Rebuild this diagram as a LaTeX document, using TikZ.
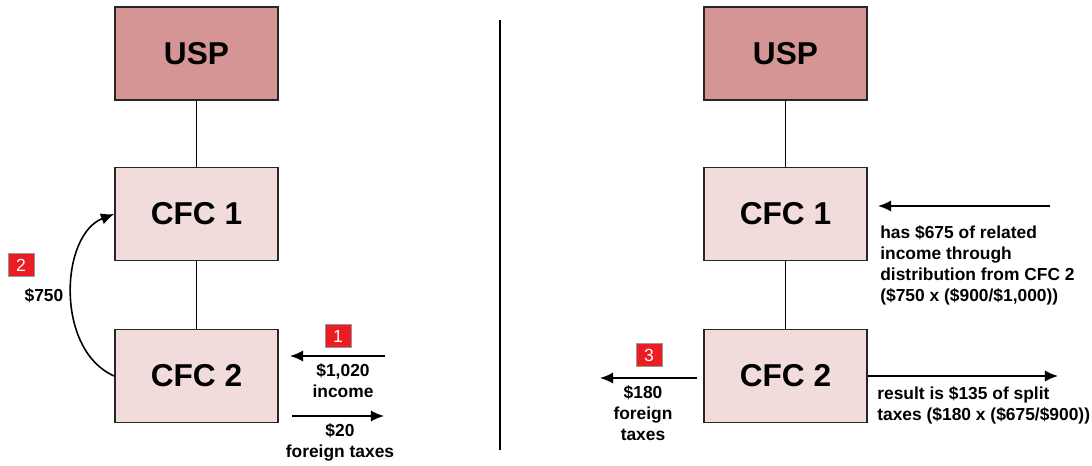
\documentclass[tikz,border=0pt]{standalone}
\usepackage{fontspec}
\setmainfont{Liberation Sans}
\usetikzlibrary{arrows.meta}
\definecolor{uspred}{HTML}{D59595}
\definecolor{cfcpink}{HTML}{F2DCDB}
\definecolor{stepred}{HTML}{EC1C24}
\tikzset{
  entity/.style={draw=black!85,line width=1pt,minimum width=3.26cm,minimum height=1.86cm,font=\fontsize{18}{20}\selectfont\bfseries},
  flow/.style={line width=1.1pt,-{Latex[length=7.5pt,width=6.5pt]}},
  note/.style={font=\fontsize{9.9}{12}\selectfont\bfseries,inner sep=0pt},
  stepno/.style={fill=stepred,draw=black!40,line width=0.4pt,text=white,minimum width=0.52cm,minimum height=0.46cm,inner sep=0pt,font=\fontsize{10}{10}\selectfont}
}
\begin{document}
\begin{tikzpicture}[x=0.02cm,y=-0.02cm]
    \useasboundingbox (0,0) rectangle (1092,466);
    % left side
    \node[entity,fill=uspred] (uspL) at (196.5,53.5) {USP};
    \node[entity,fill=cfcpink] (cfc1L) at (196.5,214) {CFC 1};
    \node[entity,fill=cfcpink] (cfc2L) at (196.5,376) {CFC 2};
    \draw[line width=0.8pt] (uspL.south)--(cfc1L.north);
    \draw[line width=0.8pt] (cfc1L.south)--(cfc2L.north);

    \coordinate (inA) at (385,356);
    \coordinate (inB) at (290,356);
    \coordinate (taxA) at (292,416);
    \coordinate (taxB) at (384,416);
    \draw[flow] (inA)--(inB);
    \draw[flow] (taxA)--(taxB);
    \node[stepno] (one) at (338,336) {1};
    \node[note,align=center] (income) at (343,381) {\$1,020\\income};
    \node[note,align=center] (ftax) at (340,442) {\$20\\foreign taxes};

    \draw[line width=0.9pt,-{Latex[length=7.5pt,width=6.5pt]}] (cfc2L.west) .. controls (55,350) and (60,235) .. (cfc1L.west);
    \node[stepno] (two) at (21,265) {2};
    \node[note] (dist) at (44,296) {\$750};

    % divider
    \draw[line width=0.8pt] (500,20)--(500,450);

    % right side
    \node[entity,fill=uspred] (uspR) at (785.5,53.5) {USP};
    \node[entity,fill=cfcpink] (cfc1R) at (785.5,214) {CFC 1};
    \node[entity,fill=cfcpink] (cfc2R) at (785.5,376) {CFC 2};
    \draw[line width=0.8pt] (uspR.south)--(cfc1R.north);
    \draw[line width=0.8pt] (cfc1R.south)--(cfc2R.north);

    \coordinate (relA) at (1050,206);
    \coordinate (relB) at (878,206);
    \draw[flow] (relA)--(relB);
    \node[note,align=left,anchor=north west] (related) at (880,225) {has \$675 of related\\income through\\distribution from CFC 2\\(\$750 x (\$900/\$1,000))};

    \coordinate (splitB) at (1058,376);
    \draw[flow] (cfc2R.east)--(splitB);
    \node[note,align=left,anchor=north west] (split) at (877,386) {result is \$135 of split\\taxes (\$180 x (\$675/\$900))};

    \coordinate (outA) at (697,378);
    \coordinate (outB) at (600,378);
    \draw[flow] (outA)--(outB);
    \node[stepno] (three) at (649,355) {3};
    \node[note,align=center] (ftaxR) at (643,413) {\$180\\foreign\\taxes};
\end{tikzpicture}
\end{document}
